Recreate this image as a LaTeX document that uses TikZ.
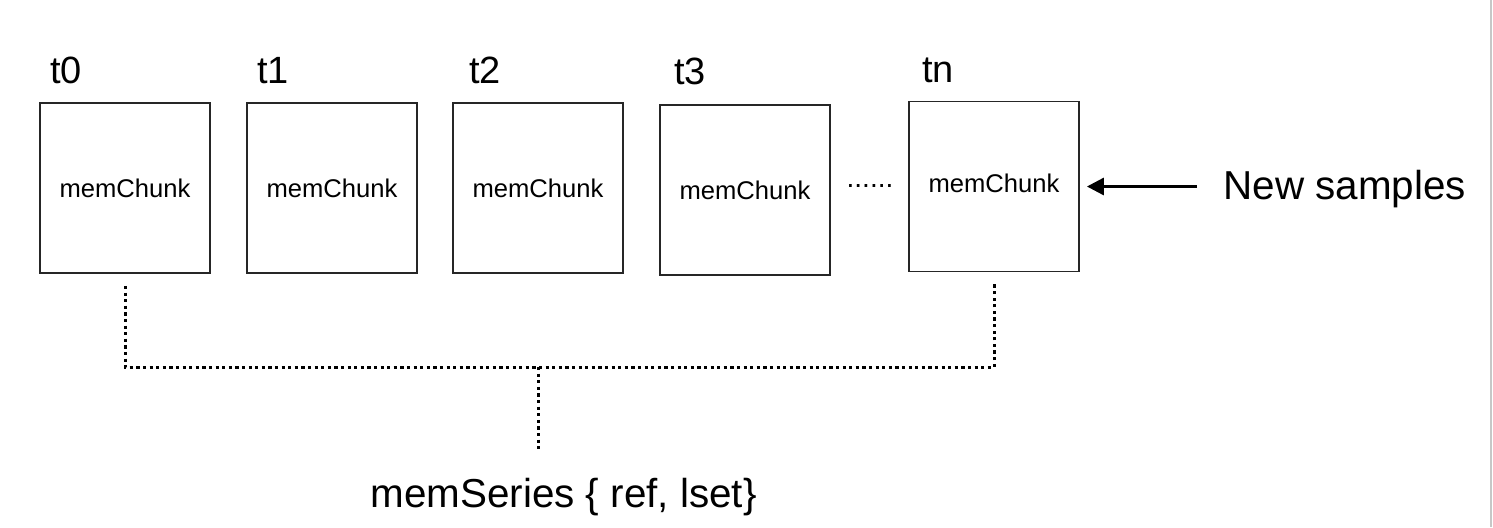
\documentclass[tikz,border=0pt]{standalone}
\usepackage{fontspec}
\setmainfont{Liberation Sans}
\usetikzlibrary{arrows.meta}
\begin{document}
\begin{tikzpicture}[x=0.5pt,y=-0.5pt,
  chunk/.style={draw=black!85,line width=0.9pt,minimum width=85pt,minimum height=85pt,inner sep=0pt,font=\fontsize{12.8pt}{14pt}\selectfont},
  tlabel/.style={anchor=base west,inner sep=0pt,font=\fontsize{19pt}{22pt}\selectfont},
  biglabel/.style={anchor=base west,inner sep=0pt,font=\fontsize{20.2pt}{24pt}\selectfont},
  dotline/.style={line width=1.5pt,dash pattern=on 1.6pt off 1.7pt},
  arrline/.style={line width=1.5pt,-{Triangle[length=8.5pt,width=8.5pt]}}]
\useasboundingbox (0,0) rectangle (1493,527);
\draw[black!22,line width=1pt] (1490.5,0) -- (1490.5,527);
% boxes
\node[chunk] (b0) at (125,188) {memChunk};
\node[chunk] (b1) at (332,188) {memChunk};
\node[chunk] (b2) at (538,188) {memChunk};
\node[chunk] (b3) at (745,190) {memChunk};
\node[chunk] (bn) at (994,186.5) {\raisebox{3pt}{memChunk}};
% labels
\node[tlabel] (l0) at (50,83) {t0};
\node[tlabel] (l1) at (257,83) {t1};
\node[tlabel] (l2) at (469,83) {t2};
\node[tlabel] (l3) at (674,84.5) {t3};
\node[tlabel] (ln) at (922,82) {tn};
% ellipsis
\node[inner sep=0pt,font=\fontsize{14pt}{16pt}\selectfont] (dots) at (870,186) {......};
% new samples
\node[biglabel] (ns) at (1223,199) {New samples};
\draw[arrline] ([xshift=-13pt]ns.west |- bn.east) -- ([xshift=3.5pt]bn.east);
% bracket
\coordinate (jm) at (538,367);
\coordinate (jb) at (538,452);
\draw[dotline] ([yshift=-6pt]b0.south) -- (b0.south |- jm) -- (bn.south |- jm) -- ([yshift=-6pt]bn.south);
\draw[dotline] (jm) -- (jb);
\node[biglabel] (ms) at (370,507) {memSeries \{ ref, lset\}};
\end{tikzpicture}
\end{document}
